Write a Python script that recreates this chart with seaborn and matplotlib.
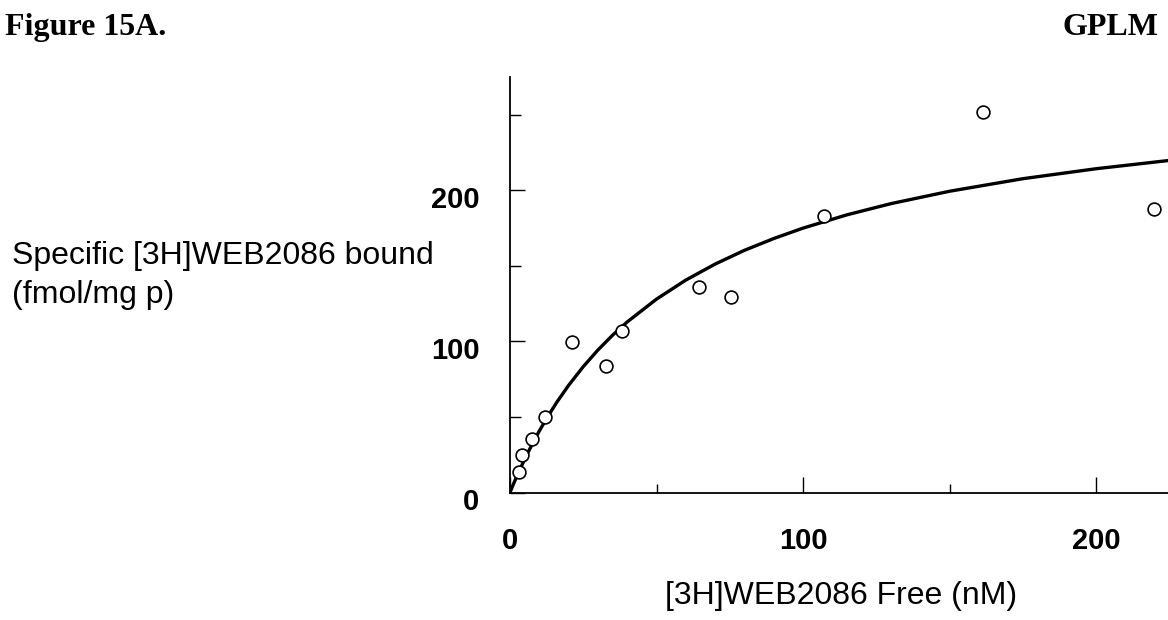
#-- saturation binding plot, [3H]WEB2086 in GPLM --

import pandas as pd
import matplotlib
matplotlib.use('Agg')
import matplotlib.pyplot as plt
from matplotlib.ticker import MultipleLocator, FixedLocator
import matplotlib.transforms as mtransforms
import seaborn as sns

sns.set_style('ticks')
plt.rcParams.update({'font.family'      : ['Liberation Sans', 'DejaVu Sans'],
                     'text.color'       : 'black',
                     'axes.edgecolor'   : 'black',
                     'xtick.color'      : 'black',
                     'ytick.color'      : 'black',
                     'axes.linewidth'   : 1.3,
                     'xtick.direction'  : 'in',
                     'ytick.direction'  : 'in'})

#--data--
free_nM     = [3.2, 4.0, 7.6, 11.9, 21.2, 32.6, 38.2, 64.5, 75.4, 107.0, 161.3, 219.6]
bound       = [13.9, 24.6, 35.2, 49.9, 99.6, 84.0, 106.6, 136.3, 129.3, 182.9, 251.8, 187.9]

#--fitted curve--
fit_free    = [0, 1, 2, 4, 6, 8, 10, 13, 16, 20, 25, 30, 35, 40, 50, 60, 70, 80, 90,
               100, 115, 130, 150, 175, 200, 225]
fit_bound   = [0, 4.7, 9.2, 17.8, 25.9, 33.5, 40.7, 50.6, 59.8, 70.9, 83.3, 94.3, 104.1,
               112.9, 128.0, 140.6, 151.2, 160.3, 168.1, 175.0, 183.8, 191.2, 199.4,
               207.7, 214.3, 219.8]

x_labeled   = [0, 100, 200]
y_labeled   = [0, 100, 200]

pts = pd.DataFrame({'free': free_nM, 'bound': bound})
fit = pd.DataFrame({'free': fit_free, 'bound': fit_bound})

fig = plt.figure(figsize=(11.68, 6.2), dpi=100)
ax = fig.add_axes([0.4366, 0.2056, 0.5634, 0.6702])

sns.lineplot(x='free', y='bound', data=fit, ax=ax, color='black', lw=2.4, sort=True)
sns.scatterplot(x='free', y='bound', data=pts, ax=ax, s=85, facecolor='white',
                edgecolor='black', linewidth=1.2, zorder=3, clip_on=False)

ax.set_xlim(0, 224.5)
ax.set_ylim(0, 275)
sns.despine(ax=ax)

ax.xaxis.set_major_locator(FixedLocator(x_labeled))
ax.xaxis.set_minor_locator(MultipleLocator(50))
ax.yaxis.set_major_locator(FixedLocator(y_labeled))
ax.yaxis.set_minor_locator(MultipleLocator(50))
ax.tick_params(axis='x', which='major', length=11.5, width=1.0, pad=25,
               labelsize=21)
ax.tick_params(axis='x', which='minor', length=6.5, width=1.0)
ax.tick_params(axis='y', which='major', length=11, width=1.0, pad=22,
               labelsize=21)
ax.tick_params(axis='y', which='minor', length=8, width=1.0)
for lab in ax.get_xticklabels() + ax.get_yticklabels():
    lab.set_fontweight('bold')
shift = mtransforms.ScaledTranslation(0, -5/72, fig.dpi_scale_trans)
for lab in ax.get_yticklabels():
    lab.set_transform(lab.get_transform() + shift)

ax.set_xlabel('')
ax.set_ylabel('')

#--labels placed like the original page--
fig.text(841/1168, 1 - 604/620, '[3H]WEB2086 Free (nM)', ha='center',
         va='baseline', fontsize=23)
fig.text(12/1168, 1 - 264/620, 'Specific [3H]WEB2086 bound', ha='left',
         va='baseline', fontsize=23)
fig.text(12/1168, 1 - 303/620, '(fmol/mg p)', ha='left', va='baseline', fontsize=23)
fig.text(5/1168, 1 - 35/620, 'Figure 15A.', ha='left', va='baseline', fontsize=23,
         fontweight='bold', family=['Liberation Serif', 'DejaVu Serif'])
fig.text(1158/1168, 1 - 35/620, 'GPLM', ha='right', va='baseline', fontsize=23,
         fontweight='bold', family=['Liberation Serif', 'DejaVu Serif'])

plt.savefig('out.png', dpi=100)
